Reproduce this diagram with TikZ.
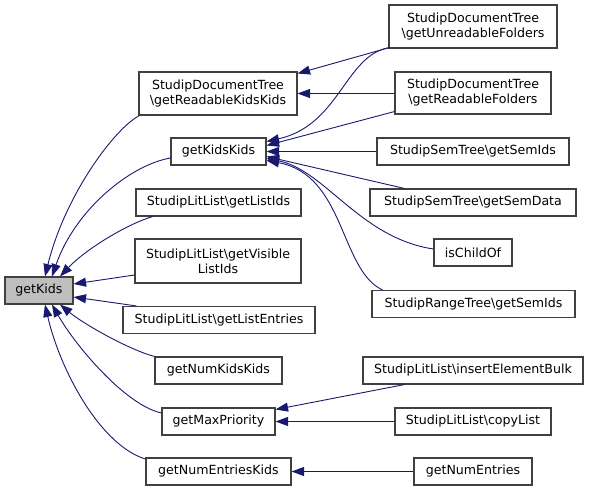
\documentclass[tikz,border=0pt]{standalone}
\usepackage{fontspec}
\setmainfont{DejaVu Sans}
\usetikzlibrary{arrows.meta,calc}
\definecolor{edgecol}{RGB}{25,25,112}
\definecolor{bordercol}{RGB}{64,64,64}
\definecolor{hilite}{RGB}{191,191,191}
\begin{document}
\begin{tikzpicture}[x=1pt,y=-1pt,
  box/.style={draw=bordercol, line width=1.1pt, fill=white, inner sep=0pt, align=center,
    minimum height=27pt, font=\fontsize{12.6}{15}\selectfont},
  tall/.style={minimum height=43pt},
  edge/.style={draw=edgecol, line width=0.9pt, -{Triangle[length=12.5pt,width=9pt]}}]
\useasboundingbox (0,0) rectangle (589,491);
% left
\node[box, fill=hilite, minimum width=68pt] (gk) at (39,290.5) {getKids};
% middle column
\node[box, tall, minimum width=158pt] (rkk) at (218,93.5) {StudipDocumentTree\\\textbackslash getReadableKidsKids};
\node[box, minimum width=95pt] (kk) at (218.5,151.5) {getKidsKids};
\node[box, minimum width=165pt] (lids) at (218.5,202.5) {StudipLitList\textbackslash getListIds};
\node[box, tall, minimum width=166pt, minimum height=44pt] (vis) at (218,261) {StudipLitList\textbackslash getVisible\\ListIds};
\node[box, minimum width=192pt] (ent) at (219,320) {StudipLitList\textbackslash getListEntries};
\node[box, minimum width=127pt] (nkk) at (218.5,370.5) {getNumKidsKids};
\node[box, minimum width=113pt] (maxp) at (218.5,421.5) {getMaxPriority};
\node[box, minimum width=145pt] (nek) at (218.5,471.5) {getNumEntriesKids};
% right column
\node[box, tall, minimum width=168pt] (unr) at (473,26.5) {StudipDocumentTree\\\textbackslash getUnreadableFolders};
\node[box, tall, minimum width=156pt, minimum height=42pt] (rf) at (473,93) {StudipDocumentTree\\\textbackslash getReadableFolders};
\node[box, minimum width=192pt] (sids) at (473,151.5) {StudipSemTree\textbackslash getSemIds};
\node[box, minimum width=206pt] (sdat) at (473,202.5) {StudipSemTree\textbackslash getSemData};
\node[box, minimum width=78pt] (ico) at (473,252.5) {isChildOf};
\node[box, minimum width=203pt] (rsids) at (473.5,304) {StudipRangeTree\textbackslash getSemIds};
\node[box, minimum width=220pt] (ieb) at (473,370.5) {StudipLitList\textbackslash insertElementBulk};
\node[box, minimum width=156pt] (cl) at (473,421.5) {StudipLitList\textbackslash copyList};
\node[box, minimum width=118pt] (ne) at (473,471.5) {getNumEntries};
% edges into getKids
\draw[edge] ($(rkk.south west)+(1,0)$) .. controls (115,128) and (65,195) .. ($(gk.north)+(6,0)$);
\draw[edge] (kk.west |- 0,158) .. controls (130,165) and (75,210) .. ($(gk.north)+(13,0)$);
\draw[edge] ($(lids.south west)+(17,0)$) .. controls (125,225) and (85,250) .. ($(gk.north)+(21,0)$);
\draw[edge] (vis.west |- 0,275) -- ($(gk.east)+(0,-6.5)$);
\draw[edge] ($(ent.north west)+(14,0)$) -- ($(gk.east)+(0,6.5)$);
\draw[edge] (nkk.north west) .. controls (130,350) and (85,325) .. ($(gk.south)+(21,0)$);
\draw[edge] (maxp.west |- 0,413) .. controls (125,405) and (75,345) .. ($(gk.south)+(13,0)$);
\draw[edge] (nek.west |- 0,459) .. controls (100,445) and (60,370) .. ($(gk.south)+(6,0)$);
% edges into getReadableKidsKids
\draw[edge] ($(unr.south west)+(1,-1)$) -- ($(rkk.east)+(0,-20)$);
\draw[edge] (rf.west |- rkk.east) -- (rkk.east);
% edges into getKidsKids
\draw[edge] ($(unr.south west)+(1,-1)$) .. controls (345,55) and (340,125) .. ($(kk.east)+(0,-10)$);
\draw[edge] ($(rf.south west)+(0,-3)$) -- ($(kk.east)+(0,-6)$);
\draw[edge] (sids.west) -- (kk.east);
\draw[edge] ($(sdat.north west)+(35,0)$) -- ($(kk.east)+(0,5)$);
\draw[edge] (ico.west |- 0,249) .. controls (360,238) and (325,170) .. ($(kk.east)+(0,7)$);
\draw[edge] ($(rsids.north west)+(11,0)$) .. controls (340,270) and (345,175) .. ($(kk.east)+(0,9)$);
% edges into getMaxPriority
\draw[edge] ($(ieb.south west)+(42,0)$) -- ($(maxp.east)+(0,-12)$);
\draw[edge] (cl.west) -- (maxp.east);
% edge into getNumEntriesKids
\draw[edge] (ne.west) -- (nek.east);
\end{tikzpicture}
\end{document}
